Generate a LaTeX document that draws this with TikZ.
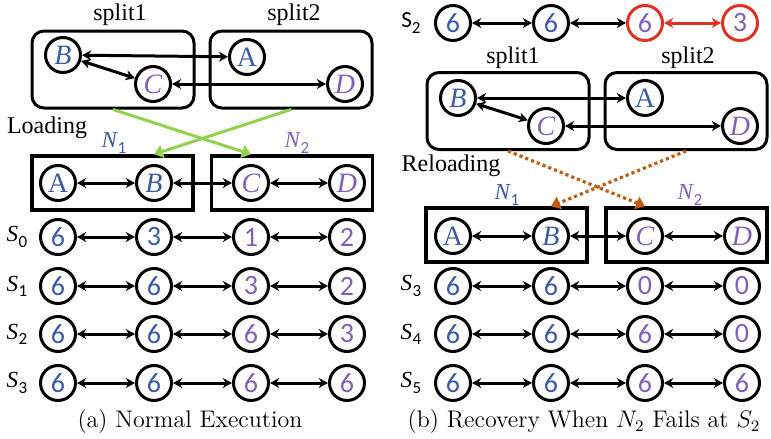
\documentclass[tikz,border=0pt]{standalone}
\usepackage{fontspec}
\usepackage{tikz}
\usetikzlibrary{arrows.meta,positioning}
\newfontfamily\serf{Liberation Serif}
\newfontfamily\calfont{Carlito}
\definecolor{nblue}{RGB}{59,91,165}
\definecolor{npurple}{RGB}{128,96,184}
\definecolor{lgreen}{RGB}{146,208,80}
\definecolor{rorange}{RGB}{197,90,17}
\definecolor{fred}{RGB}{226,48,36}
% italic letter with a small sans index
\newcommand{\msub}[2]{{\serf\itshape #1}\kern0.3pt\raisebox{-2.6pt}{\calfont\fontsize{8.5}{9}\selectfont #2}}

\begin{document}
\begin{tikzpicture}[x=0.5pt, y=-0.5pt]
\tikzset{st/.style={circle, draw, line width=1.5pt, minimum size=17.5pt, inner sep=0pt},
  la/.style={st, text=nblue, font=\serf\fontsize{14}{14}\selectfont},
  lb/.style={st, text=nblue, font=\serf\itshape\fontsize{14}{14}\selectfont},
  lp/.style={st, text=npurple, font=\serf\itshape\fontsize{14}{14}\selectfont},
  db/.style={st, text=nblue, font=\calfont\fontsize{14}{14}\selectfont},
  dp/.style={st, text=npurple, font=\calfont\fontsize{14}{14}\selectfont},
  link/.style={{Stealth[length=4.6pt,width=5pt]}-{Stealth[length=4.6pt,width=5pt]}, line width=1.5pt},
  splitbox/.style={draw, rounded corners=6pt, line width=1.5pt, minimum width=81pt, minimum height=38.5pt},
  nodebox/.style={draw, line width=1.7pt, minimum width=80.5pt, minimum height=27pt},
  txt/.style={font=\serf\fontsize{12}{12}\selectfont},
  lbl/.style={font=\fontsize{11.5}{11.5}\selectfont},
  load/.style={-{Triangle[length=4.5pt,width=6.5pt]}, line width=1.5pt, lgreen},
  reload/.style={-{Triangle[length=4.5pt,width=6.5pt]}, line width=1.6pt, rorange, dash pattern=on 1.6pt off 1.5pt},
  captext/.style={font=\fontsize{12}{14}\selectfont}}
\useasboundingbox (0,0) rectangle (771,439);

%%% (a) normal execution
\node[splitbox] (lsp1) at (113,69.5) {};
\node[splitbox] (lsp2) at (291,69.5) {};
\node[txt] (lsp1t) at (120,15) {split1};
\node[txt] (lsp2t) at (294,15) {split2};
\node[lb] (lsB) at (63,55) {B};
\node[lp] (lsC) at (153,84) {C};
\node[la] (lsA) at (247,57) {A};
\node[lp] (lsD) at (345,84) {D};
\draw[link] (lsB) -- (lsA);
\draw[link] (lsB) -- (lsC);
\draw[link] (lsC) -- (lsD);

\node[txt] (lload) at (47,128) {Loading};
\node[nodebox] (lnb1) at (112.5,183) {};
\node[nodebox] (lnb2) at (292,183) {};
\node[lbl, text=nblue] (ln1t) at (114,143) {\msub{N}{1}};
\node[lbl, text=npurple] (ln2t) at (297,143) {\msub{N}{2}};
\node[la] (lnA) at (58,183) {A};
\node[lb] (lnB) at (154,183) {B};
\node[lp] (lnC) at (251,183) {C};
\node[lp] (lnD) at (347,183) {D};
\draw[link] (lnA) -- (lnB);
\draw[link] (lnB) -- (lnC);
\draw[link] (lnC) -- (lnD);
\draw[load] (lsp1.south) -- (lnC |- lnb2.north);
\draw[load] (lsp2.south) -- (lnB |- lnb1.north);

% states
\node[lbl] (l0t) at (17,237) {\msub{S}{0}};
\node[db] (l0a) at (58,237) {6};
\node[db] (l0b) at (154,237) {3};
\node[dp] (l0c) at (251,237) {1};
\node[dp] (l0d) at (347,237) {2};
\draw[link] (l0a) -- (l0b);
\draw[link] (l0b) -- (l0c);
\draw[link] (l0c) -- (l0d);

\node[lbl] (l1t) at (17,286) {\msub{S}{1}};
\node[db] (l1a) at (58,286) {6};
\node[db] (l1b) at (154,286) {6};
\node[dp] (l1c) at (251,286) {3};
\node[dp] (l1d) at (347,286) {2};
\draw[link] (l1a) -- (l1b);
\draw[link] (l1b) -- (l1c);
\draw[link] (l1c) -- (l1d);

\node[lbl] (l2t) at (17,334) {\msub{S}{2}};
\node[db] (l2a) at (58,334) {6};
\node[db] (l2b) at (154,334) {6};
\node[dp] (l2c) at (251,334) {6};
\node[dp] (l2d) at (347,334) {3};
\draw[link] (l2a) -- (l2b);
\draw[link] (l2b) -- (l2c);
\draw[link] (l2c) -- (l2d);

\node[lbl] (l3t) at (17,383) {\msub{S}{3}};
\node[db] (l3a) at (58,383) {6};
\node[db] (l3b) at (154,383) {6};
\node[dp] (l3c) at (251,383) {6};
\node[dp] (l3d) at (347,383) {6};
\draw[link] (l3a) -- (l3b);
\draw[link] (l3b) -- (l3c);
\draw[link] (l3c) -- (l3d);

\node[captext] (lcap) at (190,422) {(a) Normal Execution};

%%% (b) recovery
\node[lbl] (r2t) at (411,23) {{\calfont S}\raisebox{-2.6pt}{\calfont\fontsize{8.5}{9}\selectfont 2}};
\node[db] (r2a) at (453,23) {6};
\node[db] (r2b) at (551,23) {6};
\node[dp, draw=fred] (r2c) at (645,23) {6};
\node[dp, draw=fred] (r2d) at (740,23) {3};
\draw[link] (r2a) -- (r2b);
\draw[link] (r2b) -- (r2c);
\draw[link, fred] (r2c) -- (r2d);

\node[splitbox] (rsp1) at (508,111) {};
\node[splitbox] (rsp2) at (686,111) {};
\node[txt] (rsp1t) at (513,58) {split1};
\node[txt] (rsp2t) at (688,58) {split2};
\node[lb] (rsB) at (458,98) {B};
\node[lp] (rsC) at (546,126) {C};
\node[la] (rsA) at (645,98) {A};
\node[lp] (rsD) at (740,126) {D};
\draw[link] (rsB) -- (rsA);
\draw[link] (rsB) -- (rsC);
\draw[link] (rsC) -- (rsD);

\node[txt] (rload) at (451,166) {Reloading};
\node[nodebox] (rnb1) at (506.5,235) {};
\node[nodebox] (rnb2) at (686.5,235) {};
\node[lbl, text=nblue] (rn1t) at (507,195) {\msub{N}{1}};
\node[lbl, text=npurple] (rn2t) at (690,195) {\msub{N}{2}};
\node[la] (rnA) at (453,236) {A};
\node[lb] (rnB) at (551,236) {B};
\node[lp] (rnC) at (645,236) {C};
\node[lp] (rnD) at (742,236) {D};
\draw[link] (rnA) -- (rnB);
\draw[link] (rnB) -- (rnC);
\draw[link] (rnC) -- (rnD);
\draw[reload] (rsp1.south) -- (rnC |- rnb2.north);
\draw[reload] (rsp2.south) -- (rnB |- rnb1.north);

% states after recovery
\node[lbl] (r3t) at (411,286) {\msub{S}{3}};
\node[db] (r3a) at (453,286) {6};
\node[db] (r3b) at (551,286) {6};
\node[dp] (r3c) at (645,286) {0};
\node[dp] (r3d) at (742,286) {0};
\draw[link] (r3a) -- (r3b);
\draw[link] (r3b) -- (r3c);
\draw[link] (r3c) -- (r3d);

\node[lbl] (r4t) at (411,334) {\msub{S}{4}};
\node[db] (r4a) at (453,334) {6};
\node[db] (r4b) at (551,334) {6};
\node[dp] (r4c) at (645,334) {6};
\node[dp] (r4d) at (742,334) {0};
\draw[link] (r4a) -- (r4b);
\draw[link] (r4b) -- (r4c);
\draw[link] (r4c) -- (r4d);

\node[lbl] (r5t) at (411,383) {\msub{S}{5}};
\node[db] (r5a) at (453,383) {6};
\node[db] (r5b) at (551,383) {6};
\node[dp] (r5c) at (645,383) {6};
\node[dp] (r5d) at (742,383) {6};
\draw[link] (r5a) -- (r5b);
\draw[link] (r5b) -- (r5c);
\draw[link] (r5c) -- (r5d);

\node[captext] (rcap) at (584,422) {(b) Recovery When $N_2$ Fails at $S_2$};
\end{tikzpicture}
\end{document}
